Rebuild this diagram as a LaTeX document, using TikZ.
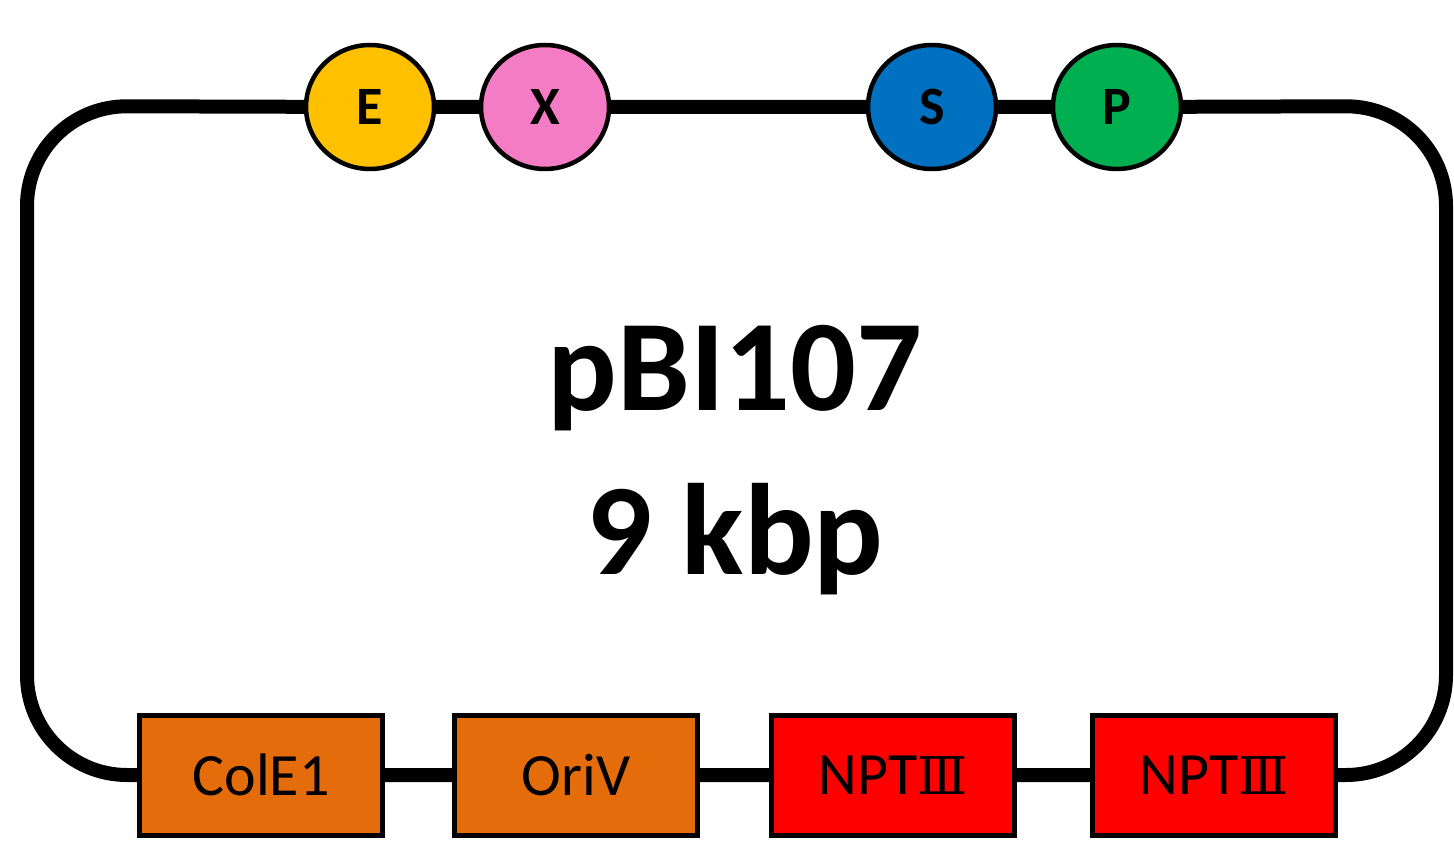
\documentclass[tikz,border=0pt]{standalone}
\usepackage{fontspec}
\setmainfont{Carlito}
\newfontfamily\numeralfont{DejaVu Serif}
\usetikzlibrary{backgrounds,shapes.geometric}
\definecolor{siteE}{HTML}{FFC000}
\definecolor{siteX}{HTML}{F47CC4}
\definecolor{siteS}{HTML}{0070C0}
\definecolor{siteP}{HTML}{00B050}
\definecolor{oriorange}{HTML}{E46C0A}
\definecolor{markerred}{HTML}{FF0000}
\tikzset{
  backbone/.style={line width=14pt, line join=round, rounded corners=100pt},
  site/.style={ellipse, draw=black, line width=4.5pt, minimum width=128pt, minimum height=124pt,
    inner sep=0pt, font=\fontsize{54}{54}\selectfont\bfseries},
  element/.style={rectangle, draw=black, line width=5pt, minimum width=243pt, minimum height=120pt,
    inner sep=0pt, font=\fontsize{60}{60}\selectfont},
  title/.style={font=\fontsize{130}{164}\selectfont\bfseries, align=center}
}
\newcommand{\numthree}{{\numeralfont\fontsize{52}{52}\selectfont Ⅲ}}
\begin{document}
\begin{tikzpicture}[x=1pt, y=-1pt]
  \useasboundingbox (0,0) rectangle (1454,842);
  % restriction sites on the upper strand
  \node[site, fill=siteE] (E) at (370,107) {E};
  \node[site, fill=siteX] (X) at (545,107) {X};
  \node[site, fill=siteS] (S) at (932,107) {S};
  \node[site, fill=siteP] (P) at (1117,107) {P};
  % replication origins and selection markers on the lower strand
  \node[element, fill=oriorange] (cole) at (261,775) {ColE1};
  \node[element, fill=oriorange] (oriv) at (576,775) {OriV};
  \node[element, fill=markerred] (npta) at (893,775) {NPT\numthree};
  \node[element, fill=markerred] (nptb) at (1214,775) {NPT\numthree};
  % corners of the plasmid outline
  \coordinate (tl) at (27,106);
  \coordinate (tr) at (1446,106);
  \coordinate (br) at (1446,775);
  \coordinate (bl) at (27,775);
  % plasmid name and size
  \node[title] (name) at (735,460) {pBI107\\9 kbp};
  \begin{scope}[on background layer]
    \draw[backbone] (E.center) -- (X.center) -- (S.center) -- (P.center) -- (tr) -- (br)
      -- (nptb.center) -- (npta.center) -- (oriv.center) -- (cole.center) -- (bl) -- (tl) -- cycle;
  \end{scope}
\end{tikzpicture}
\end{document}
